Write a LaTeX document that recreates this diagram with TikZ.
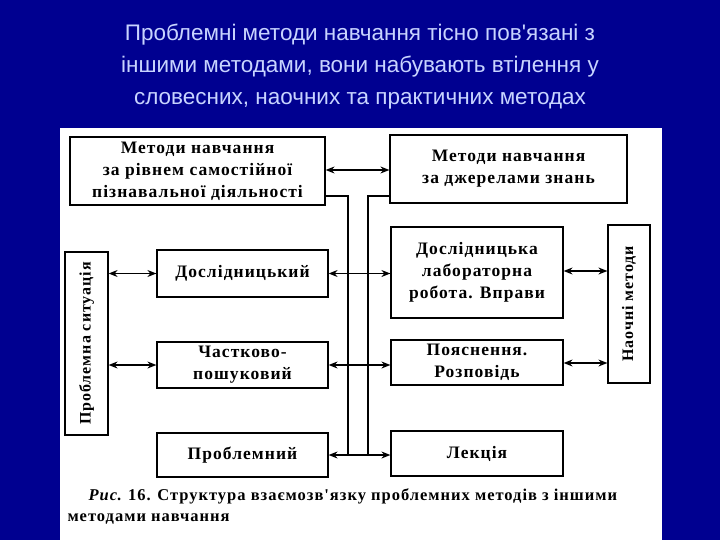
\documentclass[tikz,border=0pt]{standalone}
\usepackage{fontspec}
\setmainfont{Liberation Serif}
\newfontfamily\boxfont[LetterSpace=6]{Liberation Serif}
\newfontfamily\titlefont{Liberation Sans}
\usetikzlibrary{arrows.meta}
\definecolor{navy}{HTML}{000090}
\definecolor{ttl}{HTML}{C8D4FF}
\begin{document}
\begin{tikzpicture}[x=1pt,y=-1pt,
  bx/.style={draw,line width=1.2pt,align=center,font=\boxfont\fontsize{17.5}{22}\selectfont\bfseries,inner sep=0pt},
  rt/.style={align=center,font=\boxfont\fontsize{16}{20}\selectfont\bfseries,inner sep=0pt,rotate=90},
  dbl/.style={{Stealth[length=9pt,width=7pt]}-{Stealth[length=9pt,width=7pt]},line width=1.2pt},
  ln/.style={line width=1.2pt}]
\fill[navy] (0,0) rectangle (720,540);
\useasboundingbox (0,0) rectangle (720,540);
\fill[white] (60,128) rectangle (662,540);
\node[font=\titlefont\fontsize{22.5}{32}\selectfont,text=ttl,align=center] (title) at (360,67)
 {Проблемні методи навчання тісно пов'язані з\\іншими методами, вони набувають втілення у\\словесних, наочних та практичних методах};
\node[bx,minimum width=255,minimum height=68] (tl) at (197.5,171) {Методи навчання\\за рівнем самостійної\\пізнавальної діяльності};
\node[bx,minimum width=237,minimum height=68] (tr) at (508.5,169) {Методи навчання\\за джерелами знань};
\node[bx,minimum width=43,minimum height=183] (ps) at (86.5,343.5) {};
\node[rt] (pst) at (ps.center) {Проблемна ситуація};
\node[bx,minimum width=171,minimum height=47] (d) at (242.5,273.5) {Дослідницький};
\node[bx,minimum width=171,minimum height=46] (c) at (242.5,365) {Частково-\\пошуковий};
\node[bx,minimum width=171,minimum height=44] (p) at (242.5,455) {Проблемний};
\node[bx,minimum width=172,minimum height=91] (lab) at (477,272.5) {Дослідницька\\лабораторна\\робота. Вправи};
\node[bx,minimum width=172,minimum height=45] (po) at (477,362.5) {Пояснення.\\Розповідь};
\node[bx,minimum width=172,minimum height=45] (le) at (477,453.5) {Лекція};
\node[bx,minimum width=42,minimum height=158] (na) at (629,304) {};
\node[rt] (nat) at (na.center) {Наочні методи};
\draw[dbl] (tl.east|-0,170) -- (tr.west|-0,170);
\draw[dbl] (ps.east|-d) -- (d.west);
\draw[dbl] (ps.east|-c) -- (c.west);
\draw[dbl] (d.east) -- (lab.west|-d);
\draw[dbl] (c.east) -- (po.west|-c);
\draw[dbl] (p.east) -- (le.west|-p);
\draw[dbl] (lab.east|-0,271) -- (na.west|-0,271);
\draw[dbl] (po.east|-0,363) -- (na.west|-0,363);
\coordinate (a1) at (tl.east|-0,196);
\coordinate (a2) at (348,455);
\coordinate (b1) at (tr.west|-0,196);
\coordinate (b2) at (368,455);
\draw[ln] (a1) -| (a2);
\draw[ln] (b1) -| (b2);
\node[anchor=west,font=\boxfont\fontsize{16.5}{18}\selectfont\bfseries] (cap1) at (85,496) {\textit{Рис}. 16. Структура взаємозв'язку проблемних методів з іншими};
\node[anchor=west,font=\boxfont\fontsize{16.5}{18}\selectfont\bfseries] (cap2) at (64,519) {методами навчання};
\end{tikzpicture}
\end{document}
